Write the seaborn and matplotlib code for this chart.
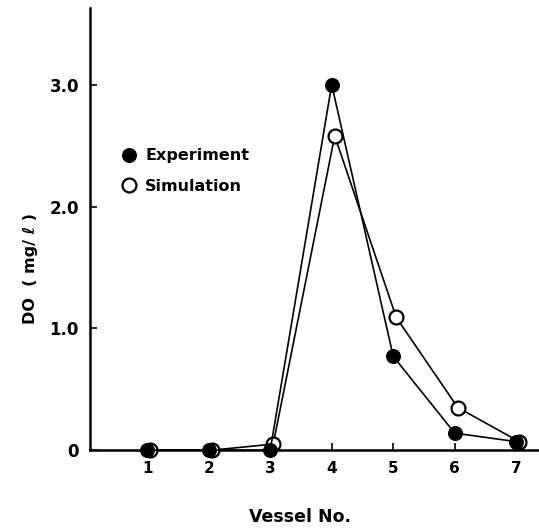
import matplotlib
matplotlib.use("Agg")
import matplotlib.pyplot as plt
import matplotlib.transforms as mtransforms
import seaborn as sns
import pandas as pd

vessels = [1, 2, 3, 4, 5, 6, 7]
experiment = [0.0, 0.0, 0.0, 3.0, 0.77, 0.14, 0.07]
simulation = [0.0, 0.0, 0.05, 2.58, 1.09, 0.35, 0.07]
y_ticks = [0, 1.0, 2.0, 3.0]
y_ticklabels = ["0", "1.0", "2.0", "3.0"]

sns.set_theme(style="white")
plt.rcParams['font.family'] = ['DejaVu Sans']
plt.rcParams['text.color'] = 'black'
plt.rcParams['axes.labelcolor'] = 'black'
plt.rcParams['xtick.color'] = 'black'
plt.rcParams['ytick.color'] = 'black'

fig = plt.figure(figsize=(5.39, 5.29), dpi=100)
ax = fig.add_axes([0.167, 0.149, 0.833, 0.836])

df_sim = pd.DataFrame({"Vessel": vessels, "DO": simulation})
df_exp = pd.DataFrame({"Vessel": vessels, "DO": experiment})

shift = mtransforms.ScaledTranslation(3 / 100, 0, fig.dpi_scale_trans)

sns.lineplot(data=df_sim, x="Vessel", y="DO", ax=ax, color="black", lw=1.2,
             marker="o", markersize=10, markerfacecolor="white",
             markeredgecolor="black", markeredgewidth=1.6, label="Simulation",
             clip_on=False, zorder=3)
sns.lineplot(data=df_exp, x="Vessel", y="DO", ax=ax, color="black", lw=1.2,
             marker="o", markersize=10, markerfacecolor="black",
             markeredgecolor="black", label="Experiment",
             clip_on=False, zorder=4)

sim_line = ax.lines[0]
sim_line.set_transform(sim_line.get_transform() + shift)

ax.set_xlim(0.07, 7.37)
ax.set_ylim(0, 3.63)
ax.set_xticks(vessels)
ax.set_xticklabels([str(v) for v in vessels], fontsize=11, fontweight="bold")
ax.set_yticks(y_ticks)
ax.set_yticklabels(y_ticklabels, fontsize=12, fontweight="bold")
ax.tick_params(axis="both", direction="in", length=5, width=1.2, color="black",
               labelcolor="black", left=True, bottom=True, pad=8)

for s in ["top", "right"]:
    ax.spines[s].set_visible(False)
for s in ["left", "bottom"]:
    ax.spines[s].set_color("black")
    ax.spines[s].set_linewidth(1.8)

ax.set_xlabel("Vessel No.", fontsize=12.5, fontweight="bold", color="black")
ax.xaxis.set_label_coords(0.468, -0.13)
ax.set_ylabel("DO  ( mg/ ℓ )", fontsize=11.5, fontweight="bold", color="black")
ax.yaxis.set_label_coords(-0.115, 0.41)

handles, labels = ax.get_legend_handles_labels()
order = [labels.index("Experiment"), labels.index("Simulation")]
leg = ax.legend([handles[i] for i in order], [labels[i] for i in order],
                loc="upper left", bbox_to_anchor=(0.055, 0.715), frameon=False,
                handlelength=0, handletextpad=1.0, labelspacing=0.95,
                prop={"size": 11.5, "weight": "bold"})
for t in leg.get_texts():
    t.set_color("black")

fig.savefig("out.png", dpi=100)
